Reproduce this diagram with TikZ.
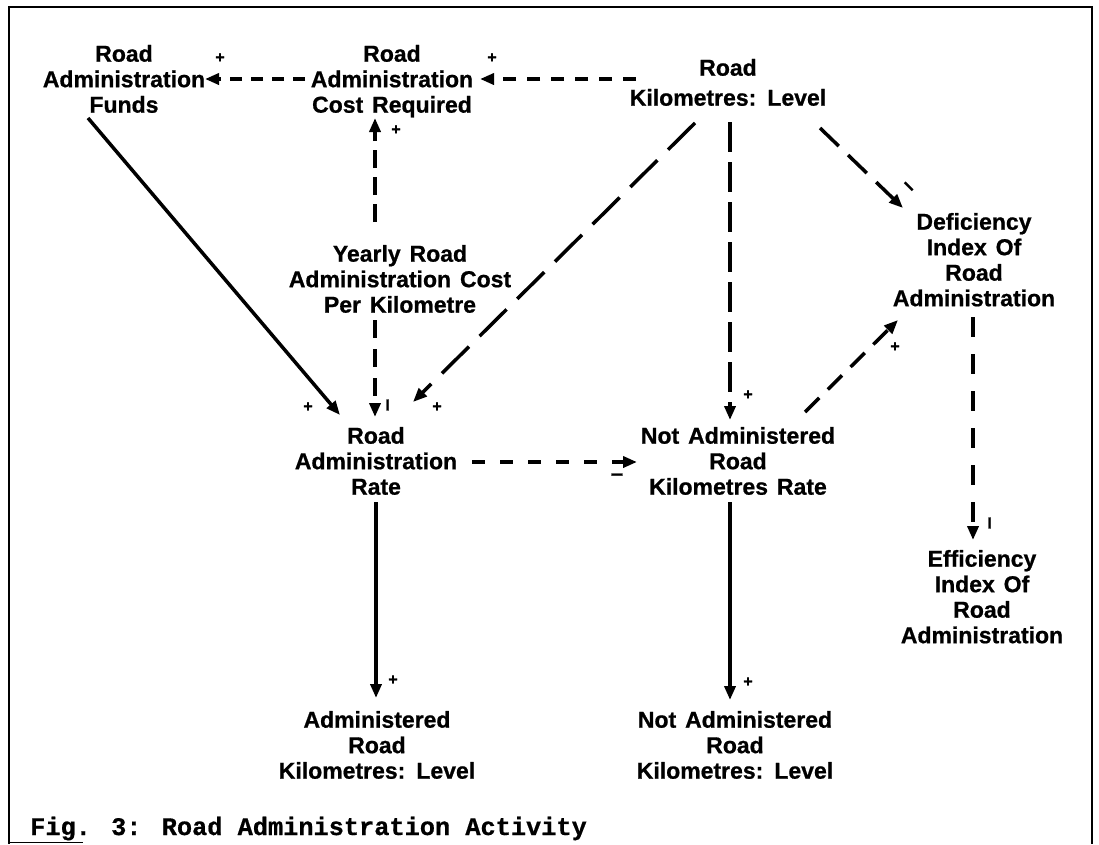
\documentclass[tikz,border=0pt]{standalone}
\usepackage{fontspec}
\setmainfont{Liberation Sans}[WordSpace=1.4, BoldFeatures={FakeBold=0.8}]
\newfontfamily\capfont{Liberation Mono}[BoldFeatures={FakeBold=0.6}]
\usetikzlibrary{arrows.meta,calc}
\begin{document}
\begin{tikzpicture}[x=1pt,y=-1pt,
  var/.style={anchor=north, align=center, inner sep=0pt, outer sep=0pt,
    font=\bfseries\fontsize{23}{25.5}\selectfont},
  conn/.style={line width=3.5pt, -{Triangle[length=14pt,width=11pt]}},
  psign/.style={inner sep=0pt, font=\bfseries\fontsize{16}{16}\selectfont},
  msign/.style={inner sep=0pt, font=\bfseries\fontsize{22}{22}\selectfont},
  frame/.style={line width=2.2pt}]
\useasboundingbox (0,0) rectangle (1099,844);
\fill[white] (0,0) rectangle (1099,844);
% frame
\draw[frame] (9,844) -- (9,7) -- (1092,7) -- (1092,844);
\draw[line width=1pt] (9,842.5) -- (83,842.5);
% variables
\node[var] (raf) at (124,45) {Road\\Administration\\Funds};
\node[var] (racr) at (392,45) {Road\\Administration\\Cost Required};
\node[var, font=\bfseries\fontsize{23}{30}\selectfont] (rkl) at (728,59) {Road\\Kilometres: Level};
\node[var] (yrac) at (400,245) {Yearly Road\\Administration Cost\\Per Kilometre};
\node[var] (rar) at (376,427) {Road\\Administration\\Rate};
\node[var] (narkr) at (738,427) {Not Administered\\Road\\Kilometres Rate};
\node[var] (dira) at (974,213) {Deficiency\\Index Of\\Road\\Administration};
\node[var] (eira) at (982,550) {Efficiency\\Index Of\\Road\\Administration};
\node[var] (arkl) at (377,711) {Administered\\Road\\Kilometres: Level};
\node[var] (narkl) at (735,711) {Not Administered\\Road\\Kilometres: Level};
% connectors
\draw[conn, dash pattern=on 12pt off 9pt] ($(racr.north)+(-87,34)$) -- ($(raf.north)+(81,34)$);
\draw[conn, dash pattern=on 13pt off 11pt] ($(rkl.north)+(-92,20)$) -- ($(racr.north)+(88,34)$);
\draw[conn, dash pattern=on 18pt off 9pt] ($(yrac.north)+(-25,-23)$) -- ($(racr.north)+(-17,73)$);
\draw[conn] ($(raf.north)+(-36,73)$) -- ($(rar.north)+(-36,-12)$);
\draw[conn, dash pattern=on 18pt off 11pt] ($(yrac.north)+(-25,75)$) -- ($(rar.north)+(-1,-10)$);
\draw[conn, dash pattern=on 38pt off 15pt] ($(rkl.north)+(-33,64)$) -- ($(rar.north)+(37,-25)$);
\draw[conn, dash pattern=on 13pt off 15pt] ($(rar.north)+(96,35)$) -- ($(narkr.north)+(-101,35)$);
\draw[conn, dash pattern=on 30pt off 10pt] ($(rkl.north)+(2,63)$) -- ($(narkr.north)+(-8,-7)$);
\draw[conn, dash pattern=on 26pt off 13pt] ($(rkl.north)+(92,69)$) -- ($(dira.north)+(-71,-5)$);
\draw[conn, dash pattern=on 20pt off 12pt] ($(narkr.north)+(67,-15)$) -- ($(dira.north)+(-76,107)$);
\draw[conn, dash pattern=on 20pt off 17pt] ($(dira.north)+(-1,104)$) -- ($(eira.north)+(-9,-10)$);
\draw[conn] ($(rar.north)+(0,75)$) -- ($(arkl.north)+(-1,-13)$);
\draw[conn] ($(narkr.north)+(-8,75)$) -- ($(narkl.north)+(-5,-11)$);
% polarity signs
\node[psign] (s1) at (220,58) {+};
\node[psign] (s2) at (492,58) {+};
\node[psign] (s3) at (396,130) {+};
\node[psign] (s4) at (308,407) {+};
\node[msign, rotate=90] (s5) at (390,405) {–};
\node[psign] (s6) at (437,407) {+};
\node[msign] (s7) at (617,477) {–};
\node[psign] (s8) at (748,395) {+};
\node[msign, rotate=-45] (s9) at (907,188) {–};
\node[psign] (s10) at (895,347) {+};
\node[msign, rotate=90] (s11) at (992,523) {–};
\node[psign] (s12) at (393,680) {+};
\node[psign] (s13) at (748,682) {+};
% caption
\node[anchor=base west, inner sep=0pt, font=\capfont\bfseries\fontsize{25.3}{25.3}\selectfont] (cap) at (30,835) {Fig. 3: Road Administration Activity};
\end{tikzpicture}
\end{document}
